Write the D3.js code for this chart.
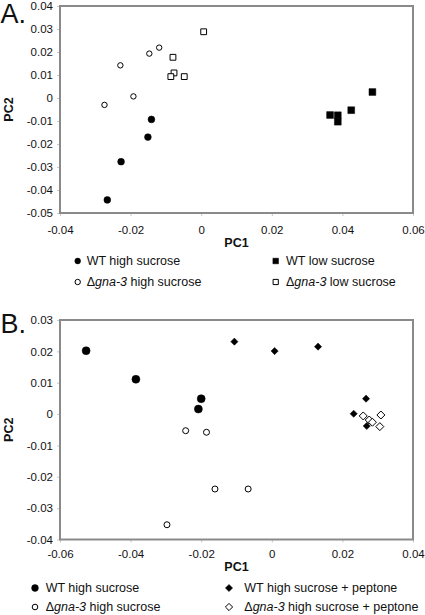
<!DOCTYPE html>
<html><head><meta charset="utf-8">
<script src="https://cdn.jsdelivr.net/npm/d3@7"></script>
<style>
html,body{margin:0;padding:0;background:#fff;}
svg{display:block;font-family:"Liberation Sans",Arial,sans-serif;}
</style></head>
<body>
<svg id="c" width="425" height="615"></svg>
<script>
// ---------- Panel A data ----------
const aWtHigh   = [[-0.0266,-0.0443],[-0.0227,-0.0277],[-0.0151,-0.0170],[-0.0141,-0.0093]];
const aGnaHigh  = [[-0.0274,-0.0030],[-0.0229,0.0142],[-0.0192,0.0007],[-0.0147,0.0193],[-0.0119,0.0219]];
const aWtLow    = [[0.0485,0.0026],[0.0425,-0.0053],[0.0365,-0.0074],[0.0387,-0.0075],[0.0387,-0.0103]];
const aGnaLow   = [[0.0007,0.0288],[-0.0080,0.0177],[-0.0077,0.0109],[-0.0086,0.0093],[-0.0048,0.0093]];
const aXTicks   = [-0.04,-0.02,0,0.02,0.04,0.06];
const aYTicks   = [0.04,0.03,0.02,0.01,0,-0.01,-0.02,-0.03,-0.04,-0.05];
// ---------- Panel B data ----------
const bWtHigh   = [[-0.0526,0.0202],[-0.0385,0.0111],[-0.0200,0.0049],[-0.0208,0.0016]];
const bGnaHigh  = [[-0.0244,-0.0053],[-0.0185,-0.0058],[-0.0161,-0.0239],[-0.0067,-0.0239],[-0.0297,-0.0353]];
const bWtPep    = [[-0.0106,0.0231],[0.0008,0.0201],[0.0131,0.0215],[0.0267,0.0049],[0.0232,0.0001],[0.0269,-0.0038]];
const bGnaPep   = [[0.0259,-0.0006],[0.0309,-0.0003],[0.0276,-0.0019],[0.0285,-0.0026],[0.0306,-0.0040]];
const bXTicks   = [-0.06,-0.04,-0.02,0,0.02,0.04];
const bYTicks   = [0.03,0.02,0.01,0,-0.01,-0.02,-0.03,-0.04];

const svg = d3.select("#c");
const fmt = d => d === 0 ? "0" : d.toFixed(2);
const TXT = "#111";

function sym(g, type, x, y, opt) {
  const s = g.append("path").attr("transform", `translate(${x},${y})`);
  let d;
  const r = opt.r;
  if (type === "circle") d = d3.symbol(d3.symbolCircle, Math.PI * r * r)();
  else if (type === "square") d = d3.symbol(d3.symbolSquare, (2*r)*(2*r))();
  else d = `M0,${-r}L${r},0L0,${r}L${-r},0Z`;
  s.attr("d", d)
   .attr("fill", opt.filled ? "#000" : "#fff")
   .attr("stroke", "#000")
   .attr("stroke-width", opt.filled ? 0.5 : 1);
}

function panel(cfg) {
  const x = d3.scaleLinear().domain(cfg.xDom).range([cfg.left, cfg.right]);
  const y = d3.scaleLinear().domain(cfg.yDom).range([cfg.bottom, cfg.top]);
  const g = svg.append("g");

  const ax = g.append("g").attr("transform", `translate(0,${cfg.bottom})`)
    .call(d3.axisBottom(x).tickValues(cfg.xTicks).tickFormat(fmt).tickSize(3).tickPadding(cfg.xPad));
  const ay = g.append("g").attr("transform", `translate(${cfg.left},0)`)
    .call(d3.axisLeft(y).tickValues(cfg.yTicks).tickFormat(fmt).tickSize(3).tickPadding(4));
  [ax, ay].forEach(a => {
    a.select(".domain").remove();
    a.selectAll(".tick line").attr("stroke", "#c8c8c8");
    a.selectAll(".tick text").attr("fill", TXT).style("font-size", "11.5px")
      .style("font-family", '"Liberation Sans",Arial,sans-serif');
  });

  g.append("rect").attr("x", cfg.left).attr("y", cfg.top)
    .attr("width", cfg.right - cfg.left).attr("height", cfg.bottom - cfg.top)
    .attr("fill", "none").attr("stroke", "#8a8a8a").attr("stroke-width", 2);

  g.append("text").attr("x", (cfg.left + cfg.right) / 2).attr("y", cfg.pc1Y)
    .attr("text-anchor", "middle").attr("dominant-baseline", "central")
    .attr("font-weight", "bold").attr("font-size", "12.5px").attr("fill", TXT).text("PC1");
  g.append("text").attr("transform", `translate(9,${(cfg.top + cfg.bottom) / 2}) rotate(-90)`)
    .attr("text-anchor", "middle").attr("dominant-baseline", "central")
    .attr("font-weight", "bold").attr("font-size", "12.5px").attr("fill", TXT).text("PC2");

  g.append("text").attr("x", 0.5).attr("y", cfg.letterY).attr("font-size", "27px")
    .attr("fill", TXT).text(cfg.letter);

  cfg.series.forEach(s => {
    s.data.forEach(p => sym(g, s.type, x(p[0]), y(p[1]), s));
  });

  cfg.legend.forEach(l => {
    const s = l.s;
    sym(g, s.type, l.mx, l.y, {r: l.r, filled: s.filled});
    const t = g.append("text").attr("x", l.tx).attr("y", l.y)
      .attr("dominant-baseline", "central").attr("font-size", "12.5px").attr("fill", TXT);
    if (s.gna) {
      t.append("tspan").text("\u0394");
      t.append("tspan").attr("font-style", "italic").text("gna-3");
      t.append("tspan").text(" " + s.label);
    } else t.text(s.label);
  });
}

const sA = [
  {data: aWtHigh,  type: "circle", filled: true,  r: 3.4, label: "WT high sucrose"},
  {data: aGnaHigh, type: "circle", filled: false, r: 2.7, label: "high sucrose", gna: true},
  {data: aWtLow,   type: "square", filled: true,  r: 3.4, label: "WT low sucrose"},
  {data: aGnaLow,  type: "square", filled: false, r: 2.9, label: "low sucrose", gna: true}
];
panel({
  letter: "A.", letterY: 23,
  xDom: [-0.04, 0.06], yDom: [-0.05, 0.04],
  left: 60, right: 413, top: 6, bottom: 213,
  xTicks: aXTicks, yTicks: aYTicks, xPad: 10, pc1Y: 243,
  series: sA,
  legend: [
    {s: sA[0], mx: 77.7, tx: 86.7, y: 261, r: 2.9},
    {s: sA[1], mx: 77.7, tx: 86.7, y: 282, r: 2.7},
    {s: sA[2], mx: 275.7, tx: 286, y: 261, r: 2.8},
    {s: sA[3], mx: 275.7, tx: 286, y: 282, r: 2.6}
  ]
});

const sB = [
  {data: bWtHigh,  type: "circle",  filled: true,  r: 4.0, label: "WT high sucrose"},
  {data: bGnaHigh, type: "circle",  filled: false, r: 3.0, label: "high sucrose", gna: true},
  {data: bWtPep,   type: "diamond", filled: true,  r: 3.6, label: "WT high sucrose + peptone"},
  {data: bGnaPep,  type: "diamond", filled: false, r: 4.0, label: "high sucrose + peptone", gna: true}
];
panel({
  letter: "B.", letterY: 333,
  xDom: [-0.06, 0.04], yDom: [-0.04, 0.03],
  left: 60, right: 413, top: 320, bottom: 539.5,
  xTicks: bXTicks, yTicks: bYTicks, xPad: 7, pc1Y: 566.7,
  series: sB,
  legend: [
    {s: sB[0], mx: 35, tx: 45.7, y: 588, r: 3.4},
    {s: sB[1], mx: 35, tx: 45.7, y: 607, r: 2.8},
    {s: sB[2], mx: 229, tx: 244.3, y: 588, r: 3.6},
    {s: sB[3], mx: 229, tx: 244.3, y: 607, r: 3.6}
  ]
});
</script>
</body></html>
